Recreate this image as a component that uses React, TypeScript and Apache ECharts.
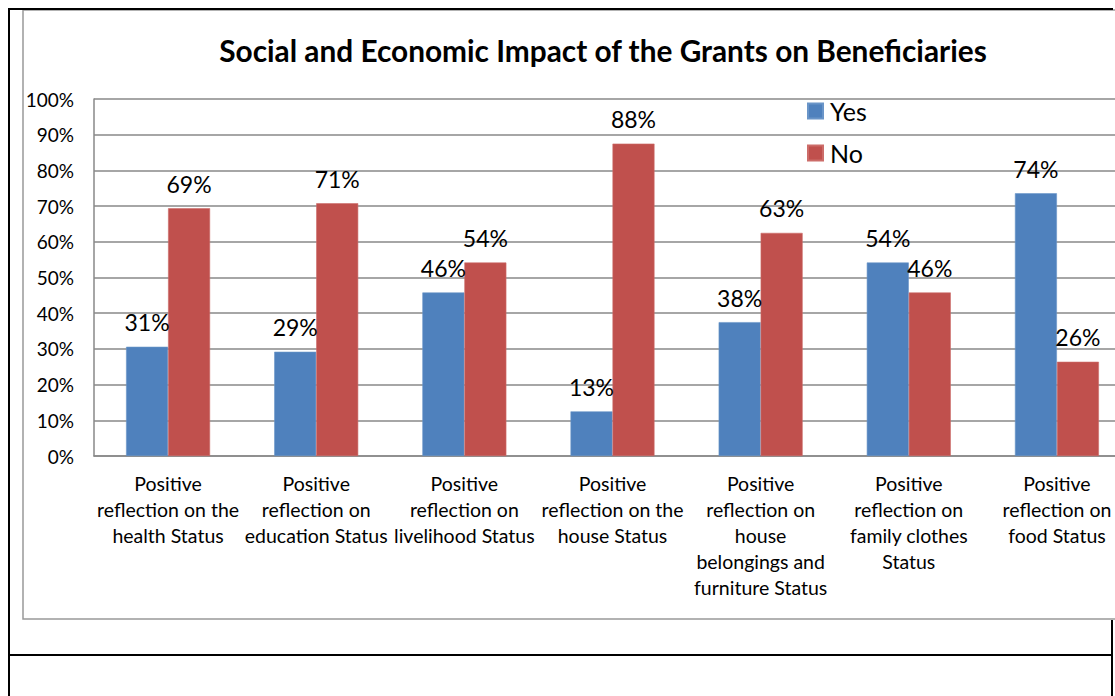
import React, { useEffect, useRef } from "react";
import * as echarts from "echarts";

const categories = [
  "Positive\nreflection on the\nhealth Status",
  "Positive\nreflection on\neducation Status",
  "Positive\nreflection on\nlivelihood Status",
  "Positive\nreflection on the\nhouse Status",
  "Positive\nreflection on\nhouse\nbelongings and\nfurniture Status",
  "Positive\nreflection on\nfamily clothes\nStatus",
  "Positive\nreflection on\nfood Status",
];
const yesValues = [30.6, 29.2, 45.8, 12.5, 37.5, 54.2, 73.6];
const noValues = [69.4, 70.8, 54.2, 87.5, 62.5, 45.8, 26.4];
const seriesNames = ["Yes", "No"];
const titleText = "Social and Economic Impact of the Grants on Beneficiaries";

const FONT = "Lato, 'Noto Sans', sans-serif";

export default function App() {
  const ref = useRef<HTMLDivElement>(null);
  useEffect(() => {
    document.body.style.margin = "0";
    if (!ref.current) return;
    const chart = echarts.init(ref.current, null, { renderer: "svg" });
    const label = {
      show: true,
      position: "top",
      distance: 13,
      color: "#000",
      fontSize: 23,
      fontFamily: FONT,
      formatter: (p: any) => Math.round(p.value) + "%",
    };
    chart.setOption({
      animation: false,
      backgroundColor: "#fff",
      title: {
        text: titleText,
        left: 603,
        top: 35,
        textAlign: "center",
        padding: 0,
        textStyle: {
          fontFamily: FONT,
          fontWeight: "bold",
          fontSize: 29.8,
          color: "#000",
        },
      },
      legend: {
        orient: "vertical",
        left: 807,
        top: 97,
        padding: 0,
        itemWidth: 15,
        itemHeight: 15,
        itemGap: 14,
        icon: "rect",
        textStyle: {
          fontFamily: FONT,
          fontSize: 25,
          lineHeight: 28,
          color: "#000",
          padding: [0, 0, 0, 2],
        },
        data: seriesNames,
      },
      grid: {
        left: 94,
        top: 99,
        width: 1037,
        height: 357,
        containLabel: false,
        outerBoundsMode: "none",
      },
      xAxis: {
        type: "category",
        data: categories,
        axisLine: { show: true, lineStyle: { color: "#888", width: 1.5 } },
        axisTick: { show: false },
        axisLabel: {
          interval: 0,
          margin: 14,
          color: "#000",
          fontFamily: FONT,
          fontSize: 19.5,
          lineHeight: 26,
        },
      },
      yAxis: {
        type: "value",
        min: 0,
        max: 100,
        interval: 10,
        axisLine: { show: true, lineStyle: { color: "#888", width: 1.5 } },
        axisTick: { show: false },
        axisLabel: {
          formatter: "{value}%",
          margin: 20,
          color: "#000",
          fontFamily: FONT,
          fontSize: 19,
        },
        splitLine: { show: true, lineStyle: { color: "#888", width: 1.5 } },
      },
      series: [
        {
          name: seriesNames[0],
          type: "bar",
          data: yesValues,
          barWidth: 42,
          barGap: "0%",
          itemStyle: { color: "#4F81BD", borderColor: "#6a95c8", borderWidth: 0.6 },
          label,
        },
        {
          name: seriesNames[1],
          type: "bar",
          data: noValues,
          barWidth: 42,
          barGap: "0%",
          itemStyle: { color: "#C0504D", borderColor: "#cc6c69", borderWidth: 0.6 },
          label,
        },
      ],
      graphic: [
        {
          type: "rect",
          z: -10,
          silent: true,
          shape: { x: 23, y: 10, width: 1120, height: 609 },
          style: { fill: "none", stroke: "#999", lineWidth: 1.5 },
        },
        {
          type: "line",
          silent: true,
          shape: { x1: 8, y1: 9, x2: 1113, y2: 9 },
          style: { stroke: "#000", lineWidth: 2 },
        },
        {
          type: "line",
          silent: true,
          shape: { x1: 9, y1: 8, x2: 9, y2: 696 },
          style: { stroke: "#000", lineWidth: 2 },
        },
        {
          type: "line",
          silent: true,
          shape: { x1: 9, y1: 655, x2: 1112, y2: 655 },
          style: { stroke: "#000", lineWidth: 2 },
        },
        {
          type: "line",
          silent: true,
          shape: { x1: 1112, y1: 620, x2: 1112, y2: 696 },
          style: { stroke: "#000", lineWidth: 2 },
        },
      ],
    });
    return () => chart.dispose();
  }, []);
  return <div ref={ref} style={{ width: 1115, height: 696 }} />;
}
